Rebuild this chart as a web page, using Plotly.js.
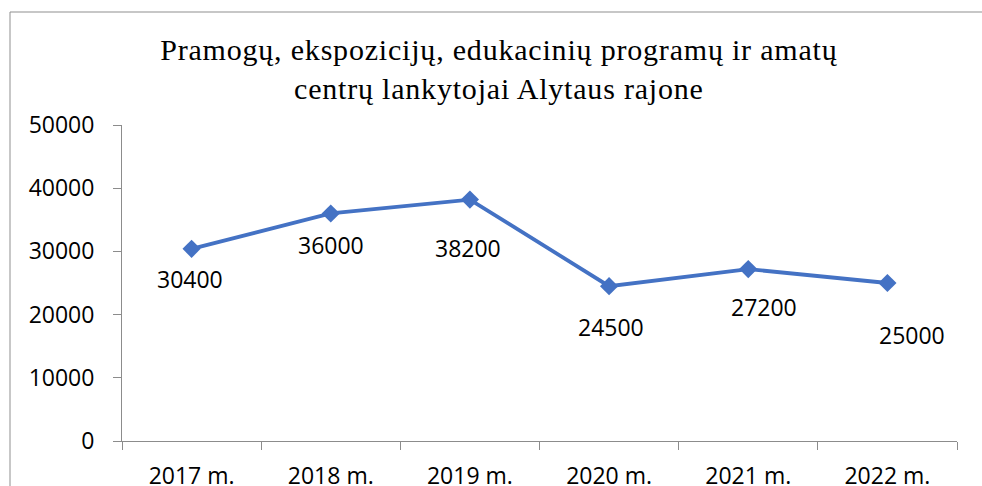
<!DOCTYPE html>
<html>
<head>
<meta charset="utf-8">
<script src="https://cdn.plot.ly/plotly-3.0.1.min.js"></script>
<style>
  html, body { margin: 0; padding: 0; background: #fff; }
  #chart { width: 982px; height: 486px; }
  #chart .gtitle { letter-spacing: 0.8px; }
</style>
</head>
<body>
<div id="chart"></div>
<script>
// Data
const years = ["2017 m.", "2018 m.", "2019 m.", "2020 m.", "2021 m.", "2022 m."];
const visitors = [30400, 36000, 38200, 24500, 27200, 25000];
const chartTitle = "Pramogų, ekspozicijų, edukacinių programų ir amatų<br>centrų lankytojai Alytaus rajone";

// Label placement (pixel offsets from each point, layout only)
const labelDx = [-2, 0, -2, 2, 16, 25];
const labelDy = [30, 32, 48, 41, 38, 52];

const tickFont = { family: "Open Sans, Noto Sans, sans-serif", size: 23, color: "#000" };
const axisGray = "#8c8c8c";

const trace = {
  type: "scatter",
  mode: "lines+markers",
  x: years,
  y: visitors,
  line: { color: "#4472C4", width: 3.8 },
  marker: { symbol: "diamond", size: 14, color: "#4472C4" },
  hoverinfo: "skip",
  cliponaxis: false
};

const annotations = years.map((yr, i) => ({
  x: yr,
  y: visitors[i],
  xref: "x",
  yref: "y",
  text: String(visitors[i]),
  showarrow: false,
  xshift: labelDx[i],
  yshift: -labelDy[i],
  font: tickFont,
  xanchor: "center",
  yanchor: "middle"
}));

const layout = {
  width: 982,
  height: 486,
  margin: { l: 122, r: 25, t: 125, b: 45 },
  paper_bgcolor: "#fff",
  plot_bgcolor: "#fff",
  showlegend: false,
  title: {
    text: chartTitle,
    font: { family: "Liberation Serif, Times New Roman, serif", size: 30, color: "#000" },
    x: 0.508,
    xanchor: "center",
    xref: "container",
    y: 1 - 60 / 486,
    yanchor: "top",
    yref: "container"
  },
  xaxis: {
    type: "category",
    range: [-0.5, 5.5],
    showgrid: false,
    zeroline: false,
    showline: true,
    linecolor: axisGray,
    linewidth: 1,
    ticks: "outside",
    tickson: "boundaries",
    ticklen: 8,
    tickcolor: axisGray,
    tickfont: tickFont,
    ticklabelstandoff: 14,
    fixedrange: true
  },
  yaxis: {
    range: [0, 50000],
    dtick: 10000,
    tick0: 0,
    showgrid: false,
    zeroline: false,
    showline: true,
    linecolor: axisGray,
    linewidth: 1,
    ticks: "outside",
    ticklen: 8,
    tickcolor: axisGray,
    tickfont: tickFont,
    ticklabelstandoff: 14,
    tickformat: "d",
    fixedrange: true
  },
  annotations: annotations,
  shapes: [
    {
      type: "rect",
      xref: "paper", yref: "paper",
      x0: (10 - 122) / 835, x1: (1000 - 122) / 835,
      y0: (441 - 520) / 316, y1: (441 - 12) / 316,
      line: { color: "#8f8f8f", width: 1 },
      fillcolor: "rgba(0,0,0,0)",
      layer: "below"
    }
  ]
};

Plotly.newPlot("chart", [trace], layout, { displayModeBar: false, staticPlot: true });
</script>
</body>
</html>
